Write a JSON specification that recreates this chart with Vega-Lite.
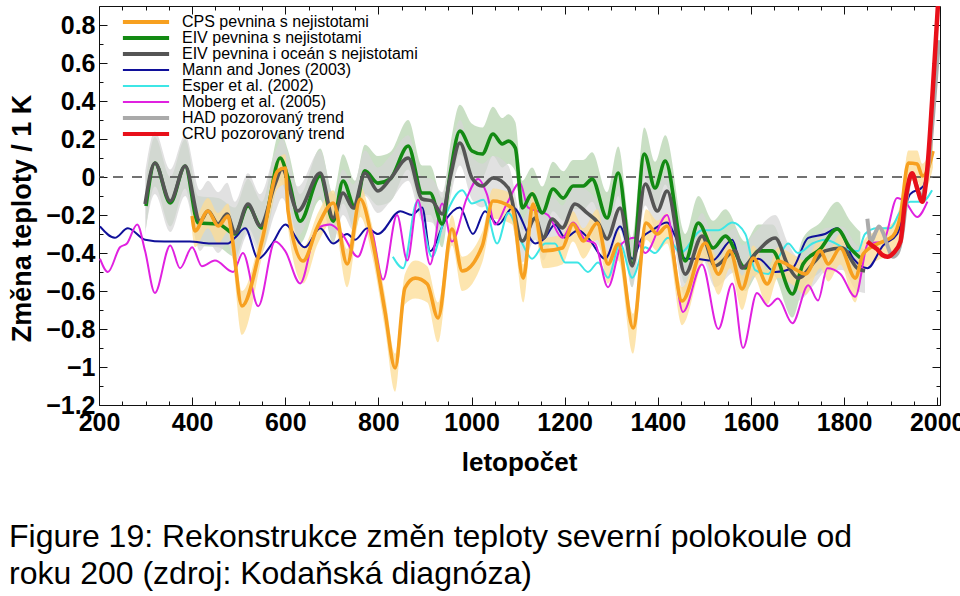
{
"$schema": "https://vega.github.io/schema/vega-lite/v6.json",
"width": 841, "height": 399,
"autosize": {"type": "none"},
"padding": {"left": 99, "top": 6, "right": 20, "bottom": 191},
"background": "white",
"config": {"view": {"stroke": "#111", "strokeWidth": 1}, "axis": {"grid": false, "domain": false, "tickColor": "#111", "tickWidth": 1}},
"title": {"text": ["Figure 19: Rekonstrukce změn teploty severní  polokoule od", "roku 200 (zdroj: Kodaňská diagnóza)"], "orient": "bottom", "anchor": "start", "frame": "group", "dx": -90, "offset": 47, "font": "Liberation Sans", "fontSize": 32, "fontWeight": "normal", "color": "#000", "lineHeight": 37, "baseline": "top"},
"resolve": {"axis": {"x": "independent", "y": "independent"}},
"data": {"name": "d"},
"datasets": {"d": [
{"s":"MJ","t":202,"v":-0.26},{"s":"MJ","t":234,"v":-0.32},{"s":"MJ","t":262,"v":-0.27},{"s":"MJ","t":299,"v":-0.33},{"s":"MJ","t":340,"v":-0.34},{"s":"MJ","t":395,"v":-0.34},{"s":"MJ","t":440,"v":-0.35},{"s":"MJ","t":477,"v":-0.35},{"s":"MJ","t":492,"v":-0.32},{"s":"MJ","t":514,"v":-0.27},{"s":"MJ","t":542,"v":-0.43},{"s":"MJ","t":572,"v":-0.35},{"s":"MJ","t":600,"v":-0.25},{"s":"MJ","t":642,"v":-0.37},{"s":"MJ","t":675,"v":-0.27},{"s":"MJ","t":703,"v":-0.35},{"s":"MJ","t":733,"v":-0.30},{"s":"MJ","t":750,"v":-0.33},{"s":"MJ","t":776,"v":-0.27},{"s":"MJ","t":799,"v":-0.30},{"s":"MJ","t":847,"v":-0.18},{"s":"MJ","t":872,"v":-0.20},{"s":"MJ","t":894,"v":-0.16},{"s":"MJ","t":911,"v":-0.39},{"s":"MJ","t":943,"v":-0.23},{"s":"MJ","t":975,"v":-0.16},{"s":"MJ","t":1003,"v":-0.30},{"s":"MJ","t":1029,"v":-0.18},{"s":"MJ","t":1057,"v":-0.25},{"s":"MJ","t":1089,"v":-0.16},{"s":"MJ","t":1137,"v":-0.35},{"s":"MJ","t":1158,"v":-0.32},{"s":"MJ","t":1179,"v":-0.25},{"s":"MJ","t":1201,"v":-0.32},{"s":"MJ","t":1229,"v":-0.28},{"s":"MJ","t":1250,"v":-0.32},{"s":"MJ","t":1287,"v":-0.43},{"s":"MJ","t":1319,"v":-0.26},{"s":"MJ","t":1345,"v":-0.43},{"s":"MJ","t":1366,"v":-0.32},{"s":"MJ","t":1388,"v":-0.28},{"s":"MJ","t":1420,"v":-0.24},{"s":"MJ","t":1437,"v":-0.31},{"s":"MJ","t":1459,"v":-0.43},{"s":"MJ","t":1480,"v":-0.43},{"s":"MJ","t":1517,"v":-0.44},{"s":"MJ","t":1560,"v":-0.33},{"s":"MJ","t":1581,"v":-0.48},{"s":"MJ","t":1616,"v":-0.43},{"s":"MJ","t":1652,"v":-0.50},{"s":"MJ","t":1689,"v":-0.48},{"s":"MJ","t":1723,"v":-0.32},{"s":"MJ","t":1759,"v":-0.30},{"s":"MJ","t":1785,"v":-0.27},{"s":"MJ","t":1820,"v":-0.43},{"s":"MJ","t":1850,"v":-0.48},{"s":"MJ","t":1884,"v":-0.36},{"s":"MJ","t":1914,"v":-0.30},{"s":"MJ","t":1942,"v":-0.09},{"s":"MJ","t":1970,"v":-0.05},{"s":"MJ","t":1981,"v":0.07},
{"s":"MOB","t":202,"v":-0.43},{"s":"MOB","t":219,"v":-0.50},{"s":"MOB","t":245,"v":-0.37},{"s":"MOB","t":260,"v":-0.35},{"s":"MOB","t":282,"v":-0.25},{"s":"MOB","t":299,"v":-0.39},{"s":"MOB","t":320,"v":-0.61},{"s":"MOB","t":353,"v":-0.36},{"s":"MOB","t":374,"v":-0.48},{"s":"MOB","t":400,"v":-0.37},{"s":"MOB","t":421,"v":-0.47},{"s":"MOB","t":449,"v":-0.44},{"s":"MOB","t":488,"v":-0.50},{"s":"MOB","t":509,"v":-0.40},{"s":"MOB","t":542,"v":-0.68},{"s":"MOB","t":578,"v":-0.34},{"s":"MOB","t":600,"v":-0.39},{"s":"MOB","t":632,"v":-0.56},{"s":"MOB","t":668,"v":-0.27},{"s":"MOB","t":696,"v":-0.25},{"s":"MOB","t":722,"v":-0.30},{"s":"MOB","t":756,"v":-0.42},{"s":"MOB","t":782,"v":-0.27},{"s":"MOB","t":810,"v":-0.54},{"s":"MOB","t":840,"v":-0.20},{"s":"MOB","t":862,"v":-0.44},{"s":"MOB","t":885,"v":-0.12},{"s":"MOB","t":911,"v":-0.46},{"s":"MOB","t":937,"v":-0.14},{"s":"MOB","t":958,"v":-0.34},{"s":"MOB","t":990,"v":-0.11},{"s":"MOB","t":1014,"v":-0.01},{"s":"MOB","t":1033,"v":-0.09},{"s":"MOB","t":1051,"v":-0.25},{"s":"MOB","t":1076,"v":-0.14},{"s":"MOB","t":1104,"v":-0.03},{"s":"MOB","t":1121,"v":-0.16},{"s":"MOB","t":1143,"v":-0.18},{"s":"MOB","t":1164,"v":-0.20},{"s":"MOB","t":1195,"v":-0.32},{"s":"MOB","t":1218,"v":-0.24},{"s":"MOB","t":1244,"v":-0.33},{"s":"MOB","t":1265,"v":-0.35},{"s":"MOB","t":1293,"v":-0.58},{"s":"MOB","t":1323,"v":-0.35},{"s":"MOB","t":1351,"v":-0.32},{"s":"MOB","t":1373,"v":-0.40},{"s":"MOB","t":1420,"v":-0.20},{"s":"MOB","t":1454,"v":-0.71},{"s":"MOB","t":1495,"v":-0.46},{"s":"MOB","t":1530,"v":-0.80},{"s":"MOB","t":1560,"v":-0.56},{"s":"MOB","t":1583,"v":-0.90},{"s":"MOB","t":1613,"v":-0.61},{"s":"MOB","t":1637,"v":-0.68},{"s":"MOB","t":1658,"v":-0.64},{"s":"MOB","t":1689,"v":-0.77},{"s":"MOB","t":1723,"v":-0.57},{"s":"MOB","t":1744,"v":-0.65},{"s":"MOB","t":1764,"v":-0.48},{"s":"MOB","t":1792,"v":-0.51},{"s":"MOB","t":1824,"v":-0.63},{"s":"MOB","t":1852,"v":-0.35},{"s":"MOB","t":1884,"v":-0.34},{"s":"MOB","t":1914,"v":-0.11},{"s":"MOB","t":1931,"v":-0.13},{"s":"MOB","t":1957,"v":-0.21},{"s":"MOB","t":1979,"v":-0.13},
{"s":"ESP","t":831,"v":-0.42},{"s":"ESP","t":853,"v":-0.48},{"s":"ESP","t":883,"v":-0.13},{"s":"ESP","t":915,"v":-0.42},{"s":"ESP","t":943,"v":-0.21},{"s":"ESP","t":980,"v":-0.07},{"s":"ESP","t":1001,"v":-0.14},{"s":"ESP","t":1025,"v":-0.12},{"s":"ESP","t":1055,"v":-0.35},{"s":"ESP","t":1079,"v":-0.19},{"s":"ESP","t":1109,"v":-0.35},{"s":"ESP","t":1130,"v":-0.43},{"s":"ESP","t":1158,"v":-0.35},{"s":"ESP","t":1179,"v":-0.35},{"s":"ESP","t":1201,"v":-0.45},{"s":"ESP","t":1227,"v":-0.45},{"s":"ESP","t":1250,"v":-0.50},{"s":"ESP","t":1272,"v":-0.45},{"s":"ESP","t":1293,"v":-0.53},{"s":"ESP","t":1319,"v":-0.35},{"s":"ESP","t":1345,"v":-0.53},{"s":"ESP","t":1373,"v":-0.37},{"s":"ESP","t":1394,"v":-0.40},{"s":"ESP","t":1422,"v":-0.32},{"s":"ESP","t":1448,"v":-0.40},{"s":"ESP","t":1495,"v":-0.28},{"s":"ESP","t":1530,"v":-0.28},{"s":"ESP","t":1560,"v":-0.24},{"s":"ESP","t":1588,"v":-0.30},{"s":"ESP","t":1609,"v":-0.49},{"s":"ESP","t":1637,"v":-0.51},{"s":"ESP","t":1658,"v":-0.43},{"s":"ESP","t":1680,"v":-0.35},{"s":"ESP","t":1701,"v":-0.40},{"s":"ESP","t":1732,"v":-0.35},{"s":"ESP","t":1759,"v":-0.33},{"s":"ESP","t":1807,"v":-0.38},{"s":"ESP","t":1830,"v":-0.39},{"s":"ESP","t":1845,"v":-0.30},{"s":"ESP","t":1871,"v":-0.27},{"s":"ESP","t":1899,"v":-0.27},{"s":"ESP","t":1921,"v":-0.18},{"s":"ESP","t":1942,"v":-0.13},{"s":"ESP","t":1968,"v":-0.13},{"s":"ESP","t":1989,"v":-0.07},
{"s":"EIVL","t":301,"v":-0.153,"lo":-0.27,"hi":-0.01},{"s":"EIVL","t":320,"v":0.074,"lo":-0.05,"hi":0.21},{"s":"EIVL","t":353,"v":-0.137,"lo":-0.26,"hi":0.0},{"s":"EIVL","t":385,"v":0.058,"lo":-0.06,"hi":0.2},{"s":"EIVL","t":413,"v":-0.242,"lo":-0.36,"hi":-0.1},{"s":"EIVL","t":456,"v":-0.247,"lo":-0.37,"hi":-0.11},{"s":"EIVL","t":492,"v":-0.3,"lo":-0.42,"hi":-0.16},{"s":"EIVL","t":520,"v":-0.153,"lo":-0.27,"hi":-0.01},{"s":"EIVL","t":550,"v":-0.268,"lo":-0.39,"hi":-0.13},{"s":"EIVL","t":589,"v":0.1,"lo":-0.02,"hi":0.24},{"s":"EIVL","t":606,"v":-0.005,"lo":-0.13,"hi":0.14},{"s":"EIVL","t":632,"v":-0.232,"lo":-0.35,"hi":-0.09},{"s":"EIVL","t":675,"v":0.005,"lo":-0.12,"hi":0.15},{"s":"EIVL","t":703,"v":-0.232,"lo":-0.35,"hi":-0.09},{"s":"EIVL","t":724,"v":-0.021,"lo":-0.14,"hi":0.12},{"s":"EIVL","t":750,"v":-0.163,"lo":-0.28,"hi":-0.02},{"s":"EIVL","t":771,"v":0.032,"lo":-0.09,"hi":0.17},{"s":"EIVL","t":799,"v":-0.032,"lo":-0.15,"hi":0.11},{"s":"EIVL","t":825,"v":-0.011,"lo":-0.13,"hi":0.13},{"s":"EIVL","t":864,"v":0.163,"lo":0.04,"hi":0.3},{"s":"EIVL","t":894,"v":-0.084,"lo":-0.2,"hi":0.06},{"s":"EIVL","t":911,"v":-0.084,"lo":-0.2,"hi":0.06},{"s":"EIVL","t":937,"v":-0.247,"lo":-0.37,"hi":-0.11},{"s":"EIVL","t":954,"v":0.016,"lo":-0.1,"hi":0.16},{"s":"EIVL","t":975,"v":0.242,"lo":0.12,"hi":0.38},{"s":"EIVL","t":1001,"v":0.137,"lo":0.02,"hi":0.28},{"s":"EIVL","t":1023,"v":0.121,"lo":0.0,"hi":0.26},{"s":"EIVL","t":1046,"v":0.226,"lo":0.11,"hi":0.37},{"s":"EIVL","t":1066,"v":0.174,"lo":0.05,"hi":0.31},{"s":"EIVL","t":1079,"v":0.189,"lo":0.07,"hi":0.33},{"s":"EIVL","t":1094,"v":0.153,"lo":0.03,"hi":0.29},{"s":"EIVL","t":1109,"v":-0.163,"lo":-0.28,"hi":-0.02},{"s":"EIVL","t":1130,"v":-0.089,"lo":-0.21,"hi":0.05},{"s":"EIVL","t":1152,"v":-0.189,"lo":-0.31,"hi":-0.05},{"s":"EIVL","t":1175,"v":-0.063,"lo":-0.18,"hi":0.08},{"s":"EIVL","t":1197,"v":-0.111,"lo":-0.23,"hi":0.03},{"s":"EIVL","t":1218,"v":-0.047,"lo":-0.17,"hi":0.09},{"s":"EIVL","t":1240,"v":-0.047,"lo":-0.17,"hi":0.09},{"s":"EIVL","t":1259,"v":-0.011,"lo":-0.13,"hi":0.13},{"s":"EIVL","t":1291,"v":-0.216,"lo":-0.34,"hi":-0.08},{"s":"EIVL","t":1315,"v":0.021,"lo":-0.1,"hi":0.16},{"s":"EIVL","t":1345,"v":-0.458,"lo":-0.58,"hi":-0.32},{"s":"EIVL","t":1371,"v":0.121,"lo":0.0,"hi":0.26},{"s":"EIVL","t":1394,"v":-0.058,"lo":-0.18,"hi":0.08},{"s":"EIVL","t":1416,"v":0.084,"lo":-0.04,"hi":0.22},{"s":"EIVL","t":1459,"v":-0.442,"lo":-0.56,"hi":-0.3},{"s":"EIVL","t":1487,"v":-0.242,"lo":-0.36,"hi":-0.1},{"s":"EIVL","t":1519,"v":-0.374,"lo":-0.49,"hi":-0.23},{"s":"EIVL","t":1545,"v":-0.311,"lo":-0.43,"hi":-0.17},{"s":"EIVL","t":1588,"v":-0.479,"lo":-0.6,"hi":-0.34},{"s":"EIVL","t":1616,"v":-0.389,"lo":-0.51,"hi":-0.25},{"s":"EIVL","t":1646,"v":-0.389,"lo":-0.51,"hi":-0.25},{"s":"EIVL","t":1689,"v":-0.616,"lo":-0.74,"hi":-0.48},{"s":"EIVL","t":1712,"v":-0.458,"lo":-0.58,"hi":-0.32},{"s":"EIVL","t":1749,"v":-0.379,"lo":-0.5,"hi":-0.24},{"s":"EIVL","t":1785,"v":-0.274,"lo":-0.39,"hi":-0.13},{"s":"EIVL","t":1813,"v":-0.374,"lo":-0.49,"hi":-0.23},{"s":"EIVL","t":1835,"v":-0.426,"lo":-0.55,"hi":-0.29},
{"s":"EIVLO","t":299,"v":-0.142,"lo":-0.3,"hi":0.02},{"s":"EIVLO","t":320,"v":0.074,"lo":-0.09,"hi":0.24},{"s":"EIVLO","t":353,"v":-0.126,"lo":-0.29,"hi":0.04},{"s":"EIVLO","t":385,"v":0.058,"lo":-0.1,"hi":0.22},{"s":"EIVLO","t":417,"v":-0.232,"lo":-0.39,"hi":-0.07},{"s":"EIVLO","t":434,"v":-0.179,"lo":-0.34,"hi":-0.02},{"s":"EIVLO","t":456,"v":-0.247,"lo":-0.4,"hi":-0.08},{"s":"EIVLO","t":475,"v":-0.195,"lo":-0.35,"hi":-0.03},{"s":"EIVLO","t":492,"v":-0.295,"lo":-0.45,"hi":-0.13},{"s":"EIVLO","t":520,"v":-0.142,"lo":-0.3,"hi":0.02},{"s":"EIVLO","t":546,"v":-0.258,"lo":-0.41,"hi":-0.09},{"s":"EIVLO","t":578,"v":-0.037,"lo":-0.19,"hi":0.13},{"s":"EIVLO","t":593,"v":0.042,"lo":-0.11,"hi":0.2},{"s":"EIVLO","t":627,"v":-0.179,"lo":-0.31,"hi":-0.05},{"s":"EIVLO","t":675,"v":0.021,"lo":-0.1,"hi":0.14},{"s":"EIVLO","t":703,"v":-0.216,"lo":-0.34,"hi":-0.09},{"s":"EIVLO","t":724,"v":-0.084,"lo":-0.2,"hi":0.04},{"s":"EIVLO","t":746,"v":-0.163,"lo":-0.28,"hi":-0.04},{"s":"EIVLO","t":771,"v":0.021,"lo":-0.1,"hi":0.14},{"s":"EIVLO","t":799,"v":-0.074,"lo":-0.19,"hi":0.05},{"s":"EIVLO","t":825,"v":-0.011,"lo":-0.13,"hi":0.11},{"s":"EIVLO","t":864,"v":0.1,"lo":-0.02,"hi":0.22},{"s":"EIVLO","t":894,"v":-0.116,"lo":-0.23,"hi":0.0},{"s":"EIVLO","t":915,"v":-0.126,"lo":-0.24,"hi":-0.01},{"s":"EIVLO","t":937,"v":-0.195,"lo":-0.31,"hi":-0.08},{"s":"EIVLO","t":954,"v":-0.005,"lo":-0.12,"hi":0.11},{"s":"EIVLO","t":975,"v":0.179,"lo":0.06,"hi":0.3},{"s":"EIVLO","t":1001,"v":-0.005,"lo":-0.12,"hi":0.11},{"s":"EIVLO","t":1023,"v":-0.047,"lo":-0.16,"hi":0.07},{"s":"EIVLO","t":1046,"v":-0.005,"lo":-0.12,"hi":0.11},{"s":"EIVLO","t":1079,"v":-0.058,"lo":-0.17,"hi":0.06},{"s":"EIVLO","t":1109,"v":-0.337,"lo":-0.45,"hi":-0.22},{"s":"EIVLO","t":1137,"v":-0.216,"lo":-0.33,"hi":-0.1},{"s":"EIVLO","t":1154,"v":-0.321,"lo":-0.44,"hi":-0.2},{"s":"EIVLO","t":1173,"v":-0.221,"lo":-0.34,"hi":-0.1},{"s":"EIVLO","t":1195,"v":-0.268,"lo":-0.38,"hi":-0.15},{"s":"EIVLO","t":1222,"v":-0.142,"lo":-0.26,"hi":-0.03},{"s":"EIVLO","t":1248,"v":-0.189,"lo":-0.3,"hi":-0.07},{"s":"EIVLO","t":1272,"v":-0.242,"lo":-0.36,"hi":-0.13},{"s":"EIVLO","t":1291,"v":-0.326,"lo":-0.44,"hi":-0.21},{"s":"EIVLO","t":1319,"v":-0.163,"lo":-0.28,"hi":-0.05},{"s":"EIVLO","t":1345,"v":-0.468,"lo":-0.58,"hi":-0.35},{"s":"EIVLO","t":1373,"v":-0.037,"lo":-0.15,"hi":0.08},{"s":"EIVLO","t":1399,"v":-0.179,"lo":-0.29,"hi":-0.06},{"s":"EIVLO","t":1420,"v":-0.074,"lo":-0.19,"hi":0.04},{"s":"EIVLO","t":1459,"v":-0.511,"lo":-0.63,"hi":-0.39},{"s":"EIVLO","t":1495,"v":-0.311,"lo":-0.43,"hi":-0.19},{"s":"EIVLO","t":1523,"v":-0.468,"lo":-0.58,"hi":-0.35},{"s":"EIVLO","t":1566,"v":-0.389,"lo":-0.5,"hi":-0.27},{"s":"EIVLO","t":1581,"v":-0.479,"lo":-0.6,"hi":-0.36},{"s":"EIVLO","t":1609,"v":-0.405,"lo":-0.52,"hi":-0.29},{"s":"EIVLO","t":1652,"v":-0.321,"lo":-0.44,"hi":-0.2},{"s":"EIVLO","t":1680,"v":-0.468,"lo":-0.58,"hi":-0.35},{"s":"EIVLO","t":1701,"v":-0.532,"lo":-0.65,"hi":-0.42},{"s":"EIVLO","t":1738,"v":-0.442,"lo":-0.56,"hi":-0.33},{"s":"EIVLO","t":1759,"v":-0.389,"lo":-0.5,"hi":-0.27},{"s":"EIVLO","t":1796,"v":-0.374,"lo":-0.49,"hi":-0.26},{"s":"EIVLO","t":1828,"v":-0.479,"lo":-0.6,"hi":-0.36},{"s":"EIVLO","t":1845,"v":-0.495,"lo":-0.61,"hi":-0.38},
{"s":"CPS","t":400,"v":-0.205,"lo":-0.29,"hi":-0.14},{"s":"CPS","t":406,"v":-0.284,"lo":-0.37,"hi":-0.21},{"s":"CPS","t":434,"v":-0.179,"lo":-0.27,"hi":-0.11},{"s":"CPS","t":456,"v":-0.258,"lo":-0.35,"hi":-0.19},{"s":"CPS","t":477,"v":-0.205,"lo":-0.29,"hi":-0.14},{"s":"CPS","t":486,"v":-0.321,"lo":-0.41,"hi":-0.25},{"s":"CPS","t":507,"v":-0.679,"lo":-0.83,"hi":-0.6},{"s":"CPS","t":550,"v":-0.337,"lo":-0.42,"hi":-0.27},{"s":"CPS","t":584,"v":0.032,"lo":-0.06,"hi":0.1},{"s":"CPS","t":600,"v":0.047,"lo":-0.04,"hi":0.12},{"s":"CPS","t":606,"v":-0.179,"lo":-0.27,"hi":-0.11},{"s":"CPS","t":638,"v":-0.442,"lo":-0.56,"hi":-0.37},{"s":"CPS","t":670,"v":-0.258,"lo":-0.35,"hi":-0.19},{"s":"CPS","t":703,"v":-0.137,"lo":-0.23,"hi":-0.07},{"s":"CPS","t":733,"v":-0.458,"lo":-0.58,"hi":-0.38},{"s":"CPS","t":761,"v":-0.116,"lo":-0.21,"hi":-0.05},{"s":"CPS","t":786,"v":-0.321,"lo":-0.41,"hi":-0.25},{"s":"CPS","t":814,"v":-0.705,"lo":-0.8,"hi":-0.62},{"s":"CPS","t":836,"v":-1.005,"lo":-1.13,"hi":-0.93},{"s":"CPS","t":857,"v":-0.584,"lo":-0.67,"hi":-0.51},{"s":"CPS","t":879,"v":-0.532,"lo":-0.64,"hi":-0.44},{"s":"CPS","t":905,"v":-0.563,"lo":-0.66,"hi":-0.47},{"s":"CPS","t":928,"v":-0.742,"lo":-0.87,"hi":-0.66},{"s":"CPS","t":958,"v":-0.274,"lo":-0.36,"hi":-0.2},{"s":"CPS","t":980,"v":-0.495,"lo":-0.6,"hi":-0.42},{"s":"CPS","t":1023,"v":-0.363,"lo":-0.45,"hi":-0.29},{"s":"CPS","t":1046,"v":-0.126,"lo":-0.22,"hi":-0.06},{"s":"CPS","t":1087,"v":-0.163,"lo":-0.25,"hi":-0.09},{"s":"CPS","t":1111,"v":-0.532,"lo":-0.66,"hi":-0.46},{"s":"CPS","t":1132,"v":-0.142,"lo":-0.23,"hi":-0.07},{"s":"CPS","t":1154,"v":-0.389,"lo":-0.48,"hi":-0.32},{"s":"CPS","t":1195,"v":-0.374,"lo":-0.46,"hi":-0.3},{"s":"CPS","t":1218,"v":-0.247,"lo":-0.34,"hi":-0.18},{"s":"CPS","t":1240,"v":-0.337,"lo":-0.43,"hi":-0.27},{"s":"CPS","t":1270,"v":-0.242,"lo":-0.33,"hi":-0.17},{"s":"CPS","t":1293,"v":-0.458,"lo":-0.56,"hi":-0.39},{"s":"CPS","t":1315,"v":-0.353,"lo":-0.44,"hi":-0.28},{"s":"CPS","t":1347,"v":-0.795,"lo":-0.93,"hi":-0.72},{"s":"CPS","t":1375,"v":-0.242,"lo":-0.33,"hi":-0.17},{"s":"CPS","t":1399,"v":-0.3,"lo":-0.39,"hi":-0.23},{"s":"CPS","t":1420,"v":-0.258,"lo":-0.35,"hi":-0.19},{"s":"CPS","t":1452,"v":-0.653,"lo":-0.78,"hi":-0.58},{"s":"CPS","t":1502,"v":-0.347,"lo":-0.44,"hi":-0.28},{"s":"CPS","t":1530,"v":-0.511,"lo":-0.62,"hi":-0.44},{"s":"CPS","t":1555,"v":-0.389,"lo":-0.48,"hi":-0.32},{"s":"CPS","t":1581,"v":-0.589,"lo":-0.7,"hi":-0.52},{"s":"CPS","t":1605,"v":-0.426,"lo":-0.52,"hi":-0.36},{"s":"CPS","t":1635,"v":-0.563,"lo":-0.67,"hi":-0.49},{"s":"CPS","t":1658,"v":-0.442,"lo":-0.53,"hi":-0.37},{"s":"CPS","t":1691,"v":-0.479,"lo":-0.57,"hi":-0.41},{"s":"CPS","t":1717,"v":-0.511,"lo":-0.62,"hi":-0.44},{"s":"CPS","t":1749,"v":-0.389,"lo":-0.48,"hi":-0.32},{"s":"CPS","t":1766,"v":-0.458,"lo":-0.55,"hi":-0.39},{"s":"CPS","t":1792,"v":-0.374,"lo":-0.46,"hi":-0.3},{"s":"CPS","t":1824,"v":-0.532,"lo":-0.66,"hi":-0.46},{"s":"CPS","t":1841,"v":-0.405,"lo":-0.5,"hi":-0.34},{"s":"CPS","t":1871,"v":-0.353,"lo":-0.44,"hi":-0.28},{"s":"CPS","t":1905,"v":-0.311,"lo":-0.4,"hi":-0.24},{"s":"CPS","t":1921,"v":-0.205,"lo":-0.29,"hi":-0.14},{"s":"CPS","t":1938,"v":0.074,"lo":-0.02,"hi":0.14},{"s":"CPS","t":1957,"v":0.068,"lo":-0.02,"hi":0.14},{"s":"CPS","t":1968,"v":0.005,"lo":-0.08,"hi":0.07},{"s":"CPS","t":1981,"v":0.047,"lo":-0.04,"hi":0.12},{"s":"CPS","t":1991,"v":0.137,"lo":0.05,"hi":0.2},
{"s":"HAD","t":1850,"v":-0.22},{"s":"HAD","t":1858,"v":-0.34},{"s":"HAD","t":1866,"v":-0.30},{"s":"HAD","t":1875,"v":-0.26},{"s":"HAD","t":1885,"v":-0.30},{"s":"HAD","t":1893,"v":-0.36},{"s":"HAD","t":1905,"v":-0.42},{"s":"HAD","t":1915,"v":-0.40},{"s":"HAD","t":1925,"v":-0.30},{"s":"HAD","t":1935,"v":-0.10},{"s":"HAD","t":1945,"v":0.02},{"s":"HAD","t":1955,"v":-0.04},{"s":"HAD","t":1965,"v":-0.10},{"s":"HAD","t":1975,"v":-0.04},{"s":"HAD","t":1985,"v":0.15},{"s":"HAD","t":1992,"v":0.35},{"s":"HAD","t":2000,"v":0.60},{"s":"HAD","t":2004,"v":0.72},
{"s":"CRU","t":1850,"v":-0.34},{"s":"CRU","t":1860,"v":-0.36},{"s":"CRU","t":1871,"v":-0.38},{"s":"CRU","t":1882,"v":-0.41},{"s":"CRU","t":1893,"v":-0.42},{"s":"CRU","t":1906,"v":-0.40},{"s":"CRU","t":1921,"v":-0.34},{"s":"CRU","t":1930,"v":-0.15},{"s":"CRU","t":1936,"v":-0.06},{"s":"CRU","t":1946,"v":0.02},{"s":"CRU","t":1957,"v":-0.06},{"s":"CRU","t":1968,"v":-0.13},{"s":"CRU","t":1979,"v":0.05},{"s":"CRU","t":1989,"v":0.40},{"s":"CRU","t":2000,"v":0.84},{"s":"CRU","t":2004,"v":1.0}
]},
"layer": [
{"transform": [{"filter": "datum.s == 'EIVL'"}],
 "mark": {"type": "area", "interpolate": "monotone", "color": "#a5c99d", "opacity": 0.6, "clip": true},
 "encoding": {
  "x": {"field": "t", "type": "quantitative", "scale": {"domain": [200, 2006], "nice": false, "zero": false}, "axis": {"orient": "bottom", "values": [250,300,350,450,500,550,650,700,750,850,900,950,1050,1100,1150,1250,1300,1350,1450,1500,1550,1650,1700,1750,1850,1900,1950], "labels": false, "tickSize": -4, "title": null}},
  "y": {"field": "lo", "type": "quantitative", "scale": {"domain": [-1.2, 0.9], "nice": false, "zero": false}, "axis": {"orient": "left", "values": [-1.1,-0.9,-0.7,-0.5,-0.3,-0.1,0.1,0.3,0.5,0.7], "labels": false, "tickSize": -4, "title": null}},
  "y2": {"field": "hi"}}},
{"transform": [{"filter": "datum.s == 'EIVLO'"}],
 "mark": {"type": "area", "interpolate": "monotone", "color": "#d6d6d6", "opacity": 0.72, "clip": true},
 "encoding": {
  "x": {"field": "t", "type": "quantitative", "scale": {"domain": [200, 2006], "nice": false, "zero": false}, "axis": {"orient": "top", "values": [200,400,600,800,1000,1200,1400,1600,1800,2000], "labels": false, "tickSize": -8, "title": null}},
  "y": {"field": "lo", "type": "quantitative", "scale": {"domain": [-1.2, 0.9], "nice": false, "zero": false}, "axis": {"orient": "right", "values": [-1.2,-1,-0.8,-0.6,-0.4,-0.2,0,0.2,0.4,0.6,0.8], "labels": false, "tickSize": -8, "title": null}},
  "y2": {"field": "hi"}}},
{"transform": [{"filter": "datum.s == 'CPS'"}],
 "mark": {"type": "area", "interpolate": "monotone", "color": "#fcdc94", "opacity": 0.75, "clip": true},
 "encoding": {
  "x": {"field": "t", "type": "quantitative", "scale": {"domain": [200, 2006], "nice": false, "zero": false}, "axis": {"orient": "top", "values": [250,300,350,450,500,550,650,700,750,850,900,950,1050,1100,1150,1250,1300,1350,1450,1500,1550,1650,1700,1750,1850,1900,1950], "labels": false, "tickSize": -4, "title": null}},
  "y": {"field": "lo", "type": "quantitative", "scale": {"domain": [-1.2, 0.9], "nice": false, "zero": false}, "axis": {"orient": "right", "values": [-1.1,-0.9,-0.7,-0.5,-0.3,-0.1,0.1,0.3,0.5,0.7], "labels": false, "tickSize": -4, "title": null}},
  "y2": {"field": "hi"}}},
{"data": {"values": [{"ref": 0}]},
 "mark": {"type": "rule", "color": "#444", "strokeWidth": 1.3, "strokeDash": [10, 9], "clip": true},
 "encoding": {
  "y": {"field": "ref", "type": "quantitative", "scale": {"domain": [-1.2, 0.9], "nice": false, "zero": false}, "axis": null}}},
{"transform": [{"filter": "datum.s == 'MJ'"}],
 "mark": {"type": "line", "interpolate": "monotone", "strokeWidth": 2, "clip": true},
 "encoding": {
  "x": {"field": "t", "type": "quantitative", "scale": {"domain": [200, 2006], "nice": false, "zero": false},
        "axis": {"orient": "bottom", "values": [200,400,600,800,1000,1200,1400,1600,1800,2000], "format": "d", "labelFont": "Liberation Sans", "labelFontWeight": "bold", "labelFontSize": 25, "labelColor": "#000", "labelPadding": 13, "tickSize": -8, "labelFlush": false, "labelOverlap": false, "labelBaseline": "top",
                 "title": "letopočet", "titleFont": "Liberation Sans", "titleFontWeight": "bold", "titleFontSize": 26, "titleColor": "#000", "titleX": 420, "titleY": 65, "titleBaseline": "alphabetic", "titleAlign": "center"}},
  "y": {"field": "v", "type": "quantitative", "scale": {"domain": [-1.2, 0.9], "nice": false, "zero": false},
        "axis": {"orient": "left", "values": [-1.2,-1,-0.8,-0.6,-0.4,-0.2,0,0.2,0.4,0.6,0.8], "format": ".1~f", "labelFont": "Liberation Sans", "labelFontWeight": "bold", "labelFontSize": 25, "labelColor": "#000", "labelPadding": 12, "tickSize": -8, "labelFlush": false, "labelOverlap": false,
                 "title": "Změna teploty  / 1 K", "titleFont": "Liberation Sans", "titleFontWeight": "bold", "titleFontSize": 27, "titleColor": "#000", "titleX": -69, "titleY": 212, "titleBaseline": "alphabetic", "titleAlign": "center", "titleAngle": -90}},
  "color": {"field": "s", "type": "nominal",
    "scale": {"domain": ["CPS","EIVL","EIVLO","MJ","ESP","MOB","HAD","CRU"], "range": ["#f7a020","#138a13","#555555","#10109a","#3de6e6","#e021e0","#aaaaaa","#e8101a"]},
    "legend": {"title": null, "orient": "none", "legendX": 39, "legendY": 8, "direction": "vertical", "symbolType": "M-3.3,0H3.3", "symbolSize": 196, "symbolStrokeWidth": 4, "labelFont": "Liberation Sans", "labelFontSize": 16, "labelColor": "#000", "labelOffset": 28, "labelLimit": 0, "rowPadding": 0, "padding": 0,
      "labelExpr": "datum.label == 'CPS' ? 'CPS pevnina s nejistotami' : datum.label == 'EIVL' ? 'EIV pevnina s nejistotami' : datum.label == 'EIVLO' ? 'EIV pevnina i oceán s nejistotami' : datum.label == 'MJ' ? 'Mann and Jones (2003)' : datum.label == 'ESP' ? 'Esper et al. (2002)' : datum.label == 'MOB' ? 'Moberg et al. (2005)' : datum.label == 'HAD' ? 'HAD pozorovaný trend' : 'CRU pozorovaný trend'",
      "encode": {"symbols": {"update": {"strokeWidth": {"signal": "indexof(['MJ','ESP','MOB'], datum.value) >= 0 ? 2 : 4"}}}}}}}},
{"transform": [{"filter": "datum.s == 'ESP'"}],
 "mark": {"type": "line", "interpolate": "monotone", "strokeWidth": 2, "clip": true},
 "encoding": {
  "x": {"field": "t", "type": "quantitative", "scale": {"domain": [200, 2006], "nice": false, "zero": false}, "axis": null},
  "y": {"field": "v", "type": "quantitative", "scale": {"domain": [-1.2, 0.9], "nice": false, "zero": false}, "axis": null},
  "color": {"field": "s", "type": "nominal"}}},
{"transform": [{"filter": "datum.s == 'MOB'"}],
 "mark": {"type": "line", "interpolate": "monotone", "strokeWidth": 2, "clip": true},
 "encoding": {
  "x": {"field": "t", "type": "quantitative", "scale": {"domain": [200, 2006], "nice": false, "zero": false}, "axis": null},
  "y": {"field": "v", "type": "quantitative", "scale": {"domain": [-1.2, 0.9], "nice": false, "zero": false}, "axis": null},
  "color": {"field": "s", "type": "nominal"}}},
{"transform": [{"filter": "datum.s == 'EIVL'"}],
 "mark": {"type": "line", "interpolate": "monotone", "strokeWidth": 3.6, "clip": true},
 "encoding": {
  "x": {"field": "t", "type": "quantitative", "scale": {"domain": [200, 2006], "nice": false, "zero": false}, "axis": null},
  "y": {"field": "v", "type": "quantitative", "scale": {"domain": [-1.2, 0.9], "nice": false, "zero": false}, "axis": null},
  "color": {"field": "s", "type": "nominal"}}},
{"transform": [{"filter": "datum.s == 'EIVLO'"}],
 "mark": {"type": "line", "interpolate": "monotone", "strokeWidth": 3.6, "clip": true},
 "encoding": {
  "x": {"field": "t", "type": "quantitative", "scale": {"domain": [200, 2006], "nice": false, "zero": false}, "axis": null},
  "y": {"field": "v", "type": "quantitative", "scale": {"domain": [-1.2, 0.9], "nice": false, "zero": false}, "axis": null},
  "color": {"field": "s", "type": "nominal"}}},
{"transform": [{"filter": "datum.s == 'CPS'"}],
 "mark": {"type": "line", "interpolate": "monotone", "strokeWidth": 3.6, "clip": true},
 "encoding": {
  "x": {"field": "t", "type": "quantitative", "scale": {"domain": [200, 2006], "nice": false, "zero": false}, "axis": null},
  "y": {"field": "v", "type": "quantitative", "scale": {"domain": [-1.2, 0.9], "nice": false, "zero": false}, "axis": null},
  "color": {"field": "s", "type": "nominal"}}},
{"transform": [{"filter": "datum.s == 'HAD'"}],
 "mark": {"type": "line", "interpolate": "monotone", "strokeWidth": 4, "clip": true},
 "encoding": {
  "x": {"field": "t", "type": "quantitative", "scale": {"domain": [200, 2006], "nice": false, "zero": false}, "axis": null},
  "y": {"field": "v", "type": "quantitative", "scale": {"domain": [-1.2, 0.9], "nice": false, "zero": false}, "axis": null},
  "color": {"field": "s", "type": "nominal"}}},
{"transform": [{"filter": "datum.s == 'CRU'"}],
 "mark": {"type": "line", "interpolate": "monotone", "strokeWidth": 4.5, "clip": true},
 "encoding": {
  "x": {"field": "t", "type": "quantitative", "scale": {"domain": [200, 2006], "nice": false, "zero": false}, "axis": null},
  "y": {"field": "v", "type": "quantitative", "scale": {"domain": [-1.2, 0.9], "nice": false, "zero": false}, "axis": null},
  "color": {"field": "s", "type": "nominal"}}}
]
}
